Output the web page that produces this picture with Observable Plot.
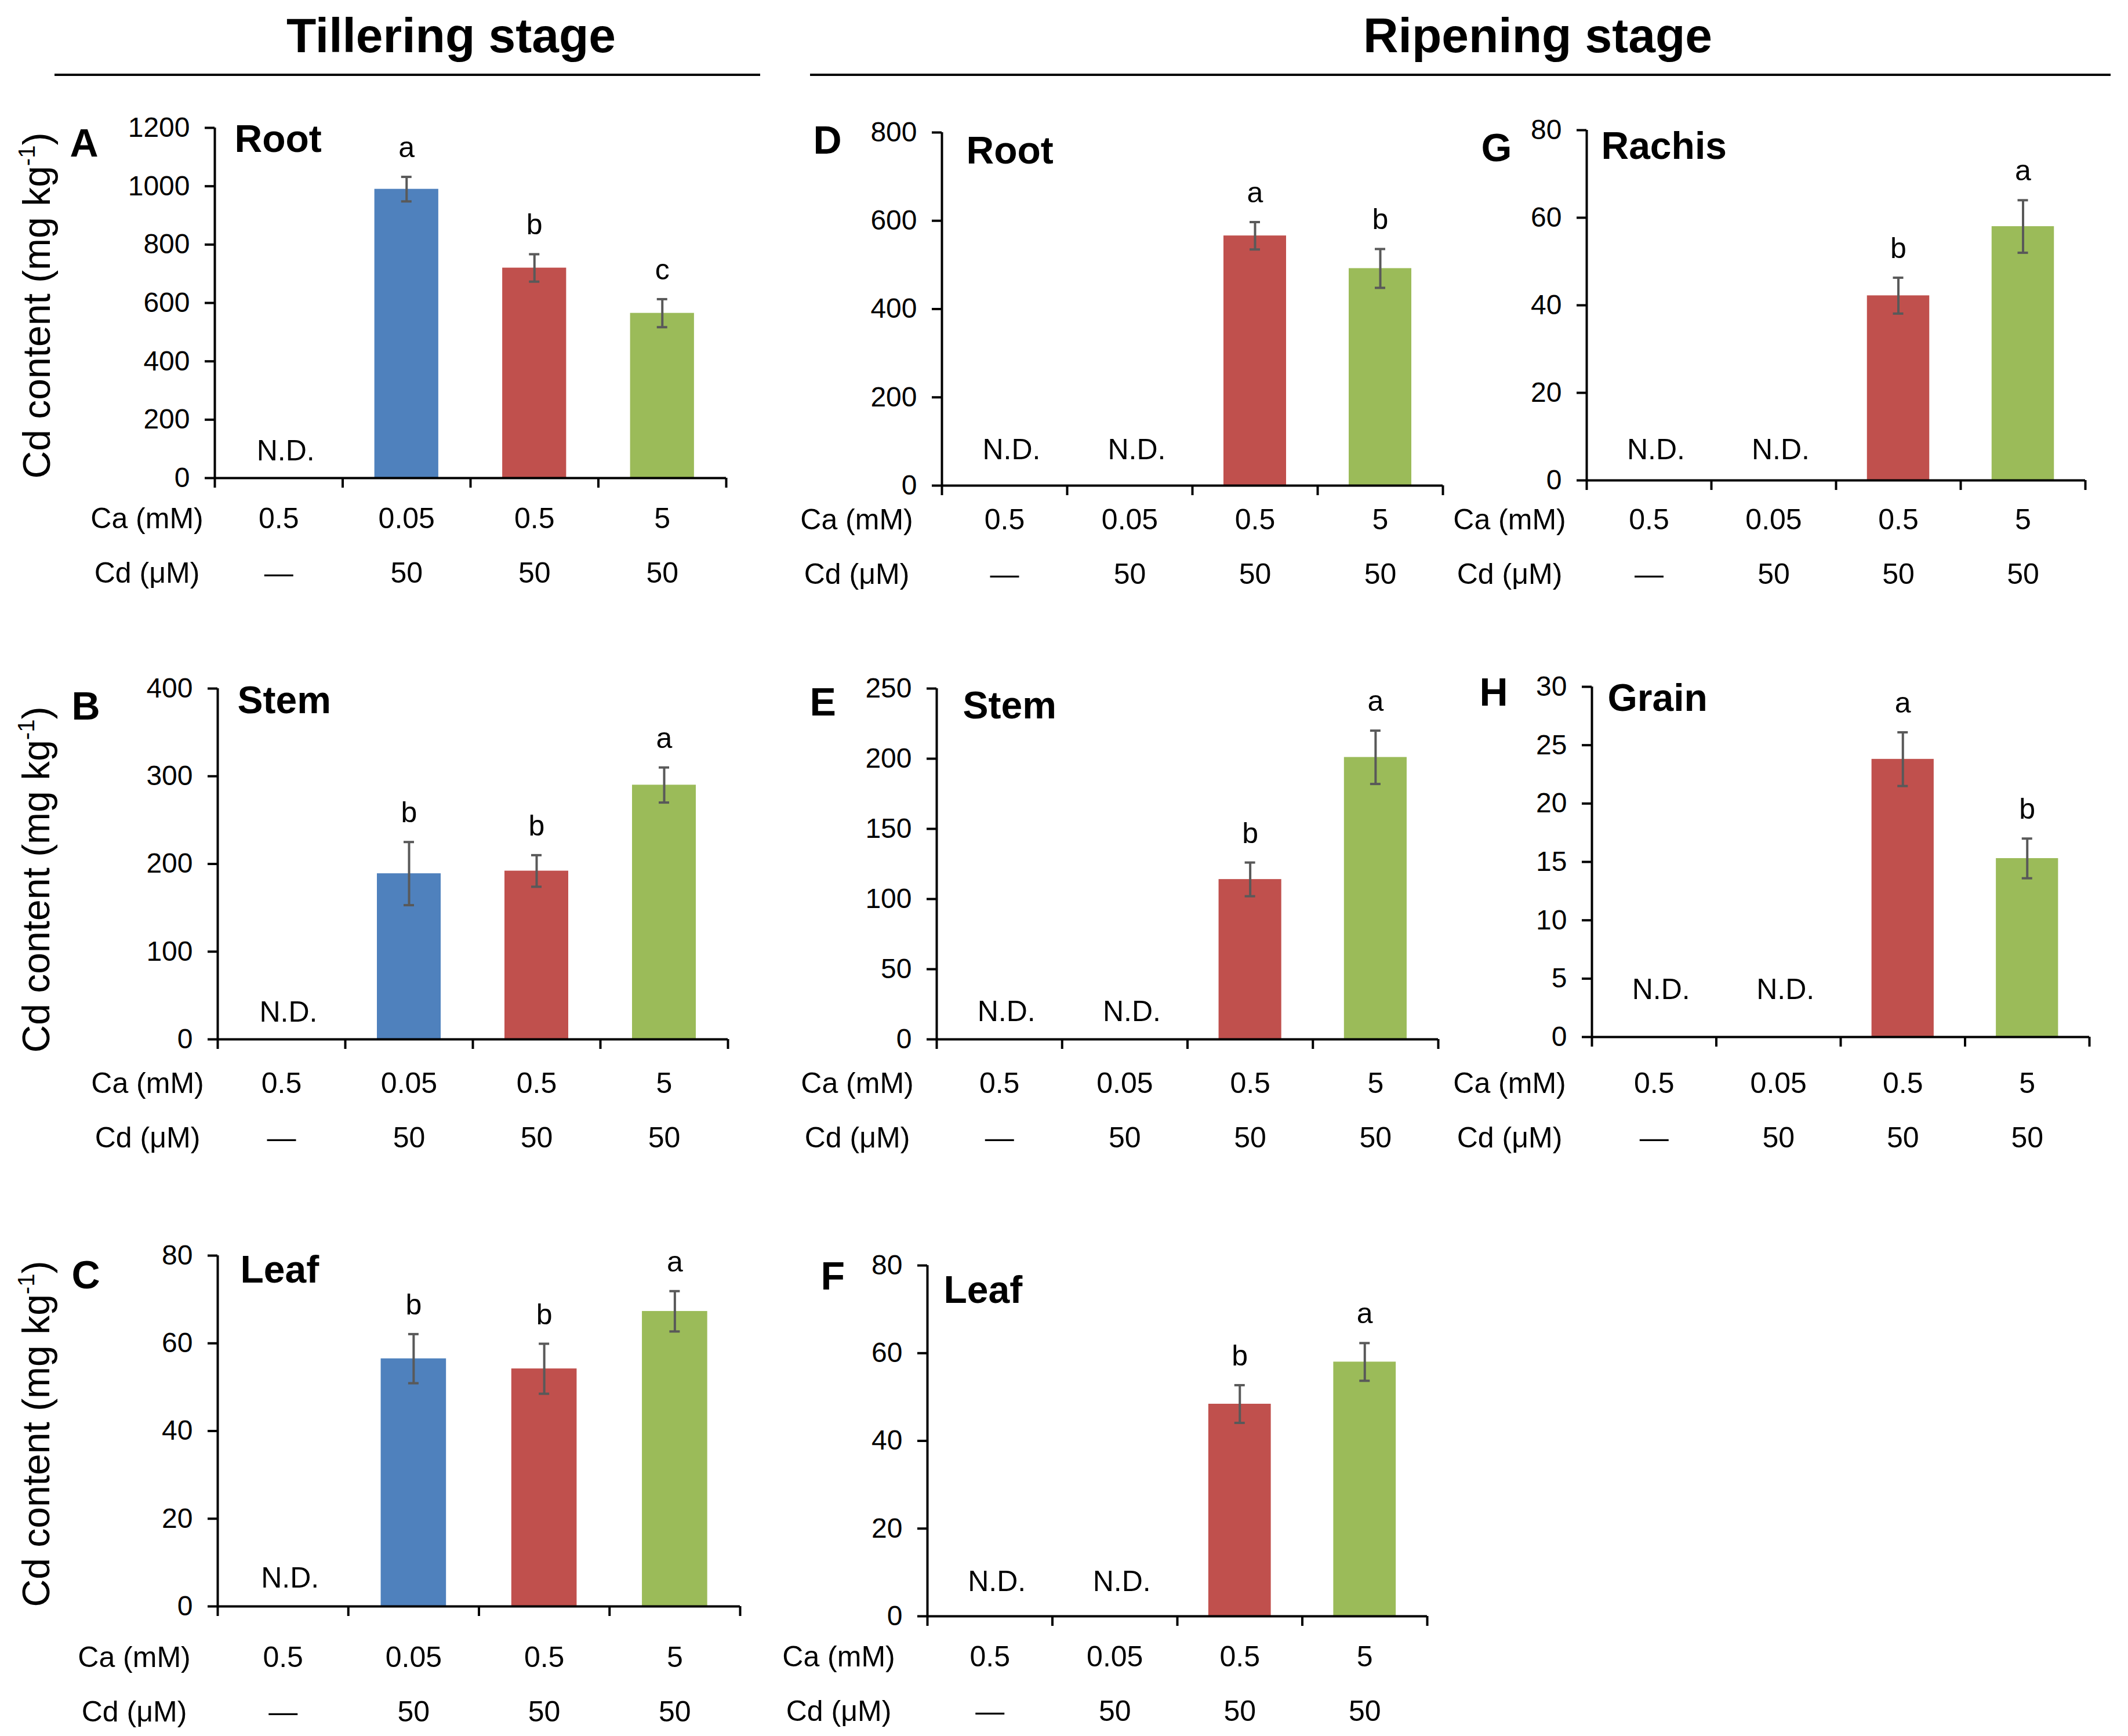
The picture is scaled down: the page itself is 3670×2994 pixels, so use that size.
<!DOCTYPE html>
<html>
<head>
<meta charset="utf-8">
<script src="https://cdn.jsdelivr.net/npm/d3@7"></script>
<script src="https://cdn.jsdelivr.net/npm/@observablehq/plot@0.6"></script>
<style>
  body { margin: 0; background: #fff; }
  #fig { position: relative; width: 3670px; height: 2994px; background: #fff; overflow: hidden;
         font-family: "Liberation Sans", Arial, sans-serif; color: #000; }
  .abs { position: absolute; white-space: nowrap; }
  .head { font-size: 84px; font-weight: bold; line-height: 84px; transform: translateX(-50%); }
  .rule { background: #000; height: 4px; }
  .ylab { font-size: 66px; line-height: 66px; transform: translate(-50%, -50%) rotate(-90deg); }
  .ylab .sup { font-size: 40px; position: relative; top: -26px; }
</style>
</head>
<body>
<div id="fig"></div>
<script>
// ---------------- data ----------------
const categories = [0, 1, 2, 3];
const caLevels = ["0.5", "0.05", "0.5", "5"];
const cdLevels = ["\u2014", "50", "50", "50"];
const treatmentColors = [null, "#4F81BD", "#C0504D", "#9BBB59"];

const stageTitles = ["Tillering stage", "Ripening stage"];
const panelIds = ["A", "B", "C", "D", "E", "F", "G", "H"];
const organNames = ["Root", "Stem", "Leaf", "Root", "Stem", "Leaf", "Rachis", "Grain"];

const tillerRootMean = [null, 990, 720, 565];
const tillerRootErr  = [null, 42, 47, 48];
const tillerRootSig  = ["", "a", "b", "c"];

const tillerStemMean = [null, 189, 192, 290];
const tillerStemErr  = [null, 36, 18, 20];
const tillerStemSig  = ["", "b", "b", "a"];

const tillerLeafMean = [null, 56.5, 54.2, 67.3];
const tillerLeafErr  = [null, 5.6, 5.7, 4.6];
const tillerLeafSig  = ["", "b", "b", "a"];

const ripenRootMean = [null, null, 566, 492];
const ripenRootErr  = [null, null, 31, 44];
const ripenRootSig  = ["", "", "a", "b"];

const ripenStemMean = [null, null, 114, 201];
const ripenStemErr  = [null, null, 12, 19];
const ripenStemSig  = ["", "", "b", "a"];

const ripenLeafMean = [null, null, 48.4, 58];
const ripenLeafErr  = [null, null, 4.3, 4.3];
const ripenLeafSig  = ["", "", "b", "a"];

const ripenRachisMean = [null, null, 42.2, 58];
const ripenRachisErr  = [null, null, 4.1, 6];
const ripenRachisSig  = ["", "", "b", "a"];

const ripenGrainMean = [null, null, 23.8, 15.3];
const ripenGrainErr  = [null, null, 2.3, 1.7];
const ripenGrainSig  = ["", "", "a", "b"];

const ticksA = [0, 200, 400, 600, 800, 1000, 1200];
const ticksB = [0, 100, 200, 300, 400];
const ticksC = [0, 20, 40, 60, 80];
const ticksD = [0, 200, 400, 600, 800];
const ticksE = [0, 50, 100, 150, 200, 250];
const ticksF = [0, 20, 40, 60, 80];
const ticksG = [0, 20, 40, 60, 80];
const ticksH = [0, 5, 10, 15, 20, 25, 30];

// ---------------- layout (pixel positions, not data) ----------------
const layouts = {
  A: {x0: 370,  x1: 1252, yTop: 220,  y0: 824,  lx: 120,  ly: 269,  tx: 404,  ty: 261,  rx: 253,  caY: 894,  cdY: 988,  nd: 47},
  B: {x0: 375,  x1: 1255, yTop: 1187, y0: 1792, lx: 123,  ly: 1240, tx: 409,  ty: 1229, rx: 254,  caY: 1868, cdY: 1962, nd: 47},
  C: {x0: 375,  x1: 1276, yTop: 2165, y0: 2770, lx: 123,  ly: 2221, tx: 414,  ty: 2211, rx: 231,  caY: 2858, cdY: 2952, nd: 49},
  D: {x0: 1624, x1: 2488, yTop: 228,  y0: 837,  lx: 1402, ly: 264,  tx: 1666, ty: 281,  rx: 1477, caY: 896,  cdY: 990,  nd: 62},
  E: {x0: 1615, x1: 2480, yTop: 1187, y0: 1792, lx: 1396, ly: 1233, tx: 1660, ty: 1238, rx: 1478, caY: 1868, cdY: 1962, nd: 48},
  F: {x0: 1599, x1: 2461, yTop: 2182, y0: 2787, lx: 1415, ly: 2223, tx: 1627, ty: 2246, rx: 1446, caY: 2857, cdY: 2951, nd: 60},
  G: {x0: 2736, x1: 3596, yTop: 224,  y0: 828,  lx: 2554, ly: 277,  tx: 2761, ty: 273,  rx: 2603, caY: 896,  cdY: 990,  nd: 53},
  H: {x0: 2745, x1: 3603, yTop: 1184, y0: 1788, lx: 2551, ly: 1216, tx: 2772, ty: 1225, rx: 2603, caY: 1868, cdY: 1962, nd: 82}
};

const panels = [
  {mean: tillerRootMean,  err: tillerRootErr,  sig: tillerRootSig,  ticks: ticksA},
  {mean: tillerStemMean,  err: tillerStemErr,  sig: tillerStemSig,  ticks: ticksB},
  {mean: tillerLeafMean,  err: tillerLeafErr,  sig: tillerLeafSig,  ticks: ticksC},
  {mean: ripenRootMean,   err: ripenRootErr,   sig: ripenRootSig,   ticks: ticksD},
  {mean: ripenStemMean,   err: ripenStemErr,   sig: ripenStemSig,   ticks: ticksE},
  {mean: ripenLeafMean,   err: ripenLeafErr,   sig: ripenLeafSig,   ticks: ticksF},
  {mean: ripenRachisMean, err: ripenRachisErr, sig: ripenRachisSig, ticks: ticksG},
  {mean: ripenGrainMean,  err: ripenGrainErr,  sig: ripenGrainSig,  ticks: ticksH}
].map((p, k) => ({...p, id: panelIds[k], organ: organNames[k]}));

const FONT = "'Liberation Sans', Arial, sans-serif";
const fig = document.getElementById("fig");

function makePanel(p) {
  const L = layouts[p.id];
  const ml = 320, mr = 40, mt = 130, mb = 240;
  const w = L.x1 - L.x0, h = L.y0 - L.yTop;
  const band = w / categories.length;
  const inset = band * 0.25;
  const capHalf = 9 / band;
  const rows = categories.map(i => ({
    i, v: p.mean[i], e: p.err[i], sig: p.sig[i], ca: caLevels[i], cd: cdLevels[i], color: treatmentColors[i]
  }));
  const bars = rows.filter(d => d.v != null);
  const nd = rows.filter(d => d.v == null);
  const ymax = p.ticks[p.ticks.length - 1];

  const chart = Plot.plot({
    width: w + ml + mr,
    height: h + mt + mb,
    marginLeft: ml, marginRight: mr, marginTop: mt, marginBottom: mb,
    x: {type: "linear", domain: [0, categories.length], axis: null},
    y: {domain: [0, ymax], axis: null},
    color: {type: "identity"},
    style: {background: "transparent", fontFamily: FONT, overflow: "visible", color: "#000"},
    marks: [
      Plot.rectY(bars, {x1: d => d.i, x2: d => d.i + 1, y: "v", fill: "color", insetLeft: inset, insetRight: inset}),
      Plot.ruleX(bars, {x: d => d.i + 0.5, y1: d => d.v - d.e, y2: d => d.v + d.e, stroke: "#595959", strokeWidth: 4}),
      Plot.ruleY(bars, {y: d => d.v + d.e, x1: d => d.i + 0.5 - capHalf, x2: d => d.i + 0.5 + capHalf, stroke: "#595959", strokeWidth: 4}),
      Plot.ruleY(bars, {y: d => d.v - d.e, x1: d => d.i + 0.5 - capHalf, x2: d => d.i + 0.5 + capHalf, stroke: "#595959", strokeWidth: 4}),
      Plot.text(bars, {x: d => d.i + 0.5, y: d => d.v + d.e, text: "sig", dy: -50, fontSize: 50, fill: "#000"}),
      Plot.text(nd, {x: d => d.i + 0.5, frameAnchor: "bottom", lineAnchor: "middle", text: () => "N.D.", dx: 12, dy: -L.nd, fontSize: 50, fill: "#000"}),
      Plot.ruleY([0], {stroke: "#000", strokeWidth: 4}),
      Plot.ruleX([0], {stroke: "#000", strokeWidth: 4}),
      Plot.axisY({ticks: p.ticks, tickSize: 17, tickPadding: 26, tickFormat: d => String(d), fontSize: 48, strokeWidth: 4, label: null}),
      Plot.axisX({ticks: d3.range(categories.length + 1), tickSize: 17, tickFormat: () => "", strokeWidth: 4, label: null}),
      Plot.text(rows, {x: d => d.i + 0.5, frameAnchor: "bottom", lineAnchor: "middle", text: "ca", dy: L.caY - L.y0, fontSize: 50, fill: "#000"}),
      Plot.text(rows, {x: d => d.i + 0.5, frameAnchor: "bottom", lineAnchor: "middle", text: "cd", dy: L.cdY - L.y0, fontSize: 50, fill: "#000"}),
      Plot.text(["Ca (mM)"], {frameAnchor: "bottom-left", lineAnchor: "middle", text: d => d, dx: L.rx - L.x0, dy: L.caY - L.y0, textAnchor: "middle", fontSize: 50, fill: "#000"}),
      Plot.text(["Cd (\u03BCM)"], {frameAnchor: "bottom-left", lineAnchor: "middle", text: d => d, dx: L.rx - L.x0, dy: L.cdY - L.y0, textAnchor: "middle", fontSize: 50, fill: "#000"}),
      Plot.text([p.id], {frameAnchor: "top-left", text: d => d, dx: L.lx - L.x0, dy: L.ly - L.yTop, textAnchor: "start", lineAnchor: "bottom", fontSize: 68, fontWeight: "bold", fill: "#000"}),
      Plot.text([p.organ], {frameAnchor: "top-left", text: d => d, dx: L.tx - L.x0, dy: L.ty - L.yTop, textAnchor: "start", lineAnchor: "bottom", fontSize: 66, fontWeight: "bold", fill: "#000"})
    ]
  });
  chart.style.position = "absolute";
  chart.style.left = (L.x0 - ml) + "px";
  chart.style.top = (L.yTop - mt) + "px";
  chart.style.maxWidth = "none";
  fig.appendChild(chart);
}

panels.forEach(makePanel);

// ---------------- headers and y labels (HTML around the charts) ----------------
function addDiv(cls, css, html) {
  const el = document.createElement("div");
  el.className = "abs " + cls;
  Object.assign(el.style, css);
  el.innerHTML = html;
  fig.appendChild(el);
}
addDiv("head", {left: "778px", top: "19px"}, stageTitles[0]);
addDiv("head", {left: "2652px", top: "19px"}, stageTitles[1]);
addDiv("rule", {left: "94px", top: "127px", width: "1217px"}, "");
addDiv("rule", {left: "1397px", top: "127px", width: "2243px"}, "");
const ylabHTML = 'Cd content (mg kg<span class="sup">-1</span>)';
[[67, 527], [66, 1517], [66, 2473]].forEach(([x, y]) => addDiv("ylab", {left: x + "px", top: y + "px"}, ylabHTML));
</script>
</body>
</html>
